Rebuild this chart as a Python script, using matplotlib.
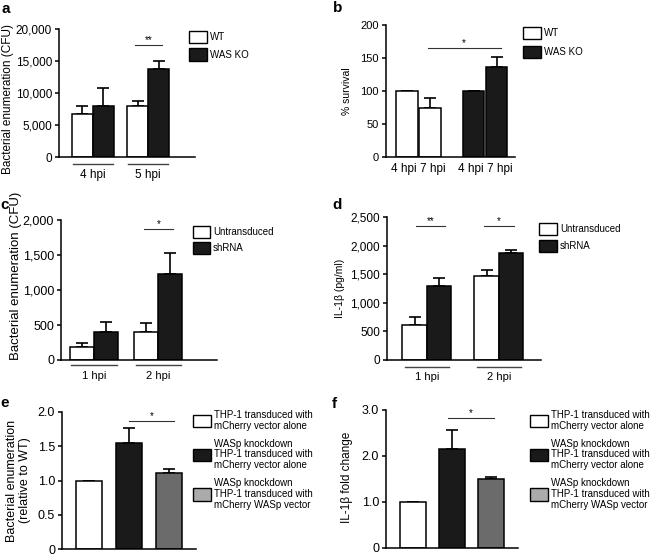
import numpy as np
import matplotlib
matplotlib.use('Agg')
import matplotlib.pyplot as plt
from matplotlib.patches import Patch

plt.rcParams['font.family'] = ['Liberation Sans', 'DejaVu Sans']

W, H = 652, 555

# panel a - bacterial enumeration, WT vs WAS KO
a_times = ['4 hpi', '5 hpi']
a_wt = [6700, 7900]
a_wt_err = [1200, 900]
a_ko = [7900, 13750]
a_ko_err = [2850, 1300]

# panel b - % survival
b_labels = ['4 hpi', '7 hpi', '4 hpi', '7 hpi']
b_wt = [100, 74]
b_wt_err = [0, 15]
b_ko = [100, 136]
b_ko_err = [0, 15]

# panel c - bacterial enumeration, untransduced vs shRNA
c_times = ['1 hpi', '2 hpi']
c_untr = [180, 395]
c_untr_err = [70, 130]
c_sh = [395, 1230]
c_sh_err = [155, 305]

# panel d - IL-1b
d_times = ['1 hpi', '2 hpi']
d_untr = [615, 1470]
d_untr_err = [145, 105]
d_sh = [1285, 1870]
d_sh_err = [145, 60]

# panels e, f - rescue
ef_names = ['THP-1 transduced with\nmCherry vector alone',
            'WASp knockdown\nTHP-1 transduced with\nmCherry vector alone',
            'WASp knockdown\nTHP-1 transduced with\nmCherry WASp vector']
e_vals = [1.0, 1.55, 1.11]
e_err = [0, 0.21, 0.055]
f_vals = [1.0, 2.15, 1.49]
f_err = [0, 0.41, 0.06]

BLACK = '#1a1a1a'
GREY = '#6b6b6b'
LGREY = '#ababab'

fig = plt.figure(figsize=(W / 100, H / 100), dpi=100)


def new_ax(l, t, r, b, ymax, yticks, yticklabels, fs, bar_px):
    ax = fig.add_axes([l / W, 1 - b / H, (r - l) / W, (b - t) / H])
    ax.set_ylim(0, ymax)
    # x in units of one bar width
    ax.set_xlim(0, (r - l) / bar_px)
    for s in ['top', 'right']:
        ax.spines[s].set_visible(False)
    for s in ['left', 'bottom']:
        ax.spines[s].set_linewidth(1.1)
    ax.set_yticks(yticks)
    ax.set_yticklabels(yticklabels)
    ax.tick_params(axis='y', length=3, width=1.1, labelsize=fs, pad=2)
    ax.tick_params(axis='x', length=0, labelsize=fs)
    return ax


def bars(ax, x, vals, errs, colors):
    ax.bar(x, vals, width=1.0, color=colors, edgecolor='black', linewidth=1.1, zorder=2)
    ax.errorbar(x, vals, yerr=[np.zeros(len(vals)), errs], fmt='none', ecolor='black',
                elinewidth=1.2, capsize=4.5, capthick=1.2, zorder=1)


def sig(ax, x0, x1, y, txt):
    ax.plot([x0, x1], [y, y], color='#333333', lw=0.8, clip_on=False)
    ax.text((x0 + x1) / 2, y, txt, ha='center', va='bottom', fontsize=7)


def underline(ax, centers, half, y):
    for c in centers:
        ax.plot([c - half, c + half], [y, y], color='#444444', lw=1.0,
                transform=ax.get_xaxis_transform(), clip_on=False)


def legend(ax, colors, labels, x, y, spacing, hl=1.8):
    handles = [Patch(facecolor=c, edgecolor='black', linewidth=1.0) for c in colors]
    leg = ax.legend(handles, labels, loc='upper left', bbox_to_anchor=(x / W, 1 - y / H),
                    bbox_transform=fig.transFigure, frameon=False, fontsize=7,
                    handlelength=hl, handleheight=1.6, handletextpad=0.35,
                    labelspacing=spacing, borderpad=0, borderaxespad=0)
    for t in leg.get_texts():
        t.set_linespacing(1.1)
    return leg


def panel_letter(x, y, s):
    fig.text(x / W, 1 - y / H, s, fontsize=11, fontweight='bold', ha='left', va='center')


# ---- a ----
ax = new_ax(59, 29, 195, 157, 20000, [0, 5000, 10000, 15000, 20000],
            ['0', '5,000', '10,000', '15,000', '20,000'], 8.5, 21)
gc = np.array([1.6, 4.25])
bars(ax, gc - 0.5, a_wt, a_wt_err, 'white')
bars(ax, gc + 0.5, a_ko, a_ko_err, BLACK)
ax.set_xticks(gc)
ax.set_xticklabels(a_times)
ax.tick_params(axis='x', pad=8.5)
underline(ax, gc, 0.95, -0.055)
sig(ax, gc[1] - 0.65, gc[1] + 0.65, 17450, '**')
ax.set_ylabel('Bacterial enumeration (CFU)', fontsize=8.5)
ax.yaxis.set_label_coords(-0.33, 0.45)
legend(ax, ['white', BLACK], ['WT', 'WAS KO'], 189, 31, 0.5)
panel_letter(2, 9, 'a')

# ---- b ----
ax = new_ax(386, 25, 515, 157, 200, [0, 50, 100, 150, 200],
            ['0', '50', '100', '150', '200'], 8, 21.5)
grp = np.array([0, 0, 1, 1])
tp = np.array([0, 1, 0, 1])
xb = 0.98 + grp * 3.1 + tp * 1.06
bars(ax, xb[:2], b_wt, b_wt_err, 'white')
bars(ax, xb[2:], b_ko, b_ko_err, BLACK)
# labels spread a little wider than the bars, as in the original
mid = 0.98 + grp * 3.1 + 0.53
ax.set_xticks(mid + (tp - 0.5) * 1.35)
ax.set_xticklabels(b_labels)
ax.tick_params(axis='x', pad=4, labelsize=8.5)
sig(ax, xb[1] - 0.1, xb[3] + 0.2, 165, '*')
ax.set_ylabel('% survival', fontsize=7.5)
ax.yaxis.set_label_coords(-0.26, 0.5)
legend(ax, ['white', BLACK], ['WT', 'WAS KO'], 523, 27, 0.65)
panel_letter(333, 8, 'b')

# ---- c ----
ax = new_ax(61, 220, 217, 360, 2000, [0, 500, 1000, 1500, 2000],
            ['0', '500', '1,000', '1,500', '2,000'], 9, 24)
gc = np.array([1.375, 4.06])
bars(ax, gc - 0.5, c_untr, c_untr_err, 'white')
bars(ax, gc + 0.5, c_sh, c_sh_err, BLACK)
ax.set_xticks(gc)
ax.set_xticklabels(c_times)
ax.tick_params(axis='x', pad=8, labelsize=8)
underline(ax, gc, 0.95, -0.036)
sig(ax, gc[1] - 0.6, gc[1] + 0.6, 1867, '*')
ax.set_ylabel('Bacterial enumeration (CFU)', fontsize=9.5)
ax.yaxis.set_label_coords(-0.25, 0.6)
legend(ax, ['white', BLACK], ['Untransduced', 'shRNA'], 193, 226, 0.35, hl=1.7)
panel_letter(0, 205, 'c')

# ---- d ----
ax = new_ax(387, 217, 541, 360, 2500, [0, 500, 1000, 1500, 2000, 2500],
            ['0', '500', '1,000', '1,500', '2,000', '2,500'], 8.5, 24.5)
gc = np.array([1.63, 4.57])
bars(ax, gc - 0.5, d_untr, d_untr_err, 'white')
bars(ax, gc + 0.5, d_sh, d_sh_err, BLACK)
ax.set_xticks(gc)
ax.set_xticklabels(d_times)
ax.tick_params(axis='x', pad=8.5, labelsize=8)
underline(ax, gc, 0.9, -0.05)
sig(ax, gc[0] - 0.45, gc[0] + 0.75, 2336, '**')
sig(ax, gc[1] - 0.6, gc[1] + 0.6, 2336, '*')
ax.set_ylabel('IL-1β (pg/ml)', fontsize=7.5)
ax.yaxis.set_label_coords(-0.27, 0.5)
legend(ax, ['white', BLACK], ['Untransduced', 'shRNA'], 539, 223, 0.45)
panel_letter(332, 205, 'd')

# ---- e ----
ax = new_ax(62, 412, 196, 549, 2.0, [0, 0.5, 1.0, 1.5, 2.0],
            ['0', '0.5', '1.0', '1.5', '2.0'], 9, 26)
xe = 1.04 + np.arange(3) * 1.53
bars(ax, xe, e_vals, e_err, ['white', BLACK, GREY])
ax.set_xticks([])
sig(ax, xe[1], xe[2] + 0.2, 1.865, '*')
ax.set_ylabel('Bacterial enumeration\n(relative to WT)', fontsize=9, linespacing=1.15)
ax.yaxis.set_label_coords(-0.23, 0.5)
legend(ax, ['white', BLACK, LGREY], ef_names, 193, 410, 0.8)
panel_letter(0, 403, 'e')

# ---- f ----
ax = new_ax(386, 410, 518, 548, 3.0, [0, 1.0, 2.0, 3.0],
            ['0', '1.0', '2.0', '3.0'], 9, 26)
xf = 1.04 + np.arange(3) * 1.5
bars(ax, xf, f_vals, f_err, ['white', BLACK, GREY])
ax.set_xticks([])
sig(ax, xf[1] - 0.15, xf[2] + 0.1, 2.82, '*')
ax.set_ylabel('IL-1β fold change', fontsize=8.5)
ax.yaxis.set_label_coords(-0.25, 0.51)
legend(ax, ['white', BLACK, LGREY], ef_names, 530, 410, 0.8)
panel_letter(332, 404, 'f')

fig.savefig('out.png', dpi=100)
